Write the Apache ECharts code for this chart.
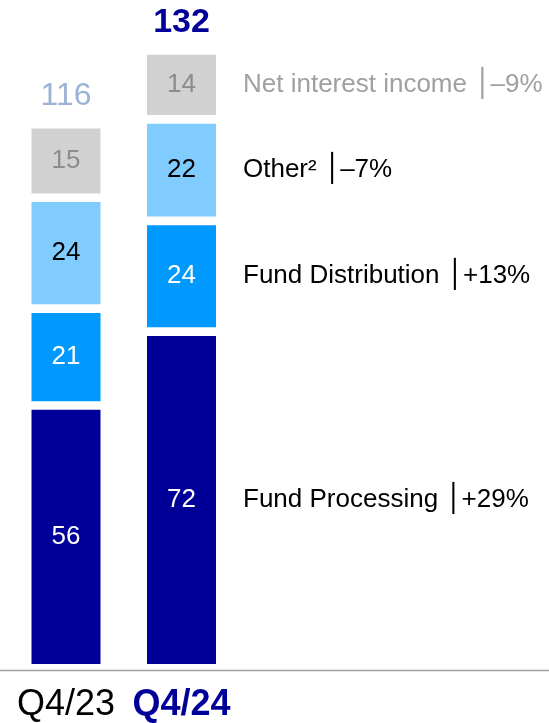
<!DOCTYPE html>
<html>
<head>
<meta charset="utf-8">
<script src="https://cdn.jsdelivr.net/npm/echarts@6/dist/echarts.min.js"></script>
<style>
html,body{margin:0;padding:0;background:#fff;}
#chart{width:549px;height:723px;}
</style>
</head>
<body>
<div id="chart"></div>
<script>
// ---- data ----
const categories = ['Q4/23', 'Q4/24'];
const fundProcessing = [56, 72];
const fundDistribution = [21, 24];
const other = [24, 22];
const netInterest = [15, 14];
const totals = [116, 132];
const segmentNames = ['Fund Processing', 'Fund Distribution', 'Other\u00B2', 'Net interest income'];
const segmentChanges = ['+29%', '+13%', '\u20137%', '\u20139%'];

// ---- styles ----
const FONT = "'Liberation Sans', Arial, sans-serif";
const segments = [fundProcessing, fundDistribution, other, netInterest];
const colors = ['#000099', '#0099FF', '#80CCFF', '#D1D1D1'];
const innerTextColors = ['#FFFFFF', '#FFFFFF', '#000000', '#8C8C8C'];
const sideTextColors = ['#000000', '#000000', '#000000', '#A0A0A0'];
const totalColors = ['#9DB3D6', '#000099'];
const totalWeights = ['normal', 'bold'];
const GAP = 8.6;
const BAR_W = 69;

const chart = echarts.init(document.getElementById('chart'), null, {renderer: 'canvas'});

const segSeries = segments.map((vals, s) => ({
  type: 'custom',
  silent: true,
  data: vals.map((v, i) => {
    let base = 0;
    for (let k = 0; k < s; k++) base += segments[k][i];
    return [i, v, base];
  }),
  renderItem: function (params, api) {
    const i = api.value(0), v = api.value(1), base = api.value(2);
    const p0 = api.coord([i, base]);
    const p1 = api.coord([i, base + v]);
    let yBottom = p0[1], yTop = p1[1];
    if (s > 0) yBottom -= GAP / 2;
    if (s < segments.length - 1) yTop += GAP / 2;
    const cx = p0[0];
    const cy = (yTop + yBottom) / 2;
    const children = [
      {type: 'rect', shape: {x: cx - BAR_W / 2, y: yTop, width: BAR_W, height: yBottom - yTop},
       style: {fill: colors[s]}},
      {type: 'text', style: {text: String(v), x: cx, y: cy, align: 'center', verticalAlign: 'middle',
       fontFamily: FONT, fontSize: 26, fill: innerTextColors[s]}}
    ];
    if (i === categories.length - 1) {
      const c = sideTextColors[s];
      children.push({type: 'text', style: {
        text: '{a|' + segmentNames[s] + ' }{p|\u2502}{b|' + segmentChanges[s] + '}',
        x: cx + BAR_W / 2 + 27, y: cy, align: 'left', verticalAlign: 'middle',
        rich: {
          a: {fontFamily: FONT, fontSize: 26, fill: c},
          p: {fontFamily: "'DejaVu Sans'", fontSize: 27, fill: c},
          b: {fontFamily: FONT, fontSize: 26, fill: c}
        }
      }});
    }
    return {type: 'group', children: children};
  }
}));

const totalSeries = {
  type: 'custom',
  silent: true,
  data: totals.map((t, i) => [i, t]),
  renderItem: function (params, api) {
    const i = api.value(0);
    const p = api.coord([i, api.value(1)]);
    return {type: 'text', style: {text: String(api.value(1)), x: p[0], y: p[1] - 32,
      align: 'center', verticalAlign: 'middle', fontFamily: FONT, fontSize: i === 1 ? 34 : 32,
      fontWeight: totalWeights[i], fill: totalColors[i]}};
  }
};

chart.setOption({
  animation: false,
  grid: {left: 8.25, width: 231, top: 17.8, bottom: 55, containLabel: false},
  xAxis: {
    type: 'category', data: categories,
    axisLine: {show: false}, axisTick: {show: false},
    axisLabel: {
      margin: 23,
      formatter: function (v, idx) { return idx === 1 ? '{b|' + v + '}' : '{a|' + v + '}'; },
      rich: {
        a: {fontFamily: FONT, fontSize: 36, color: '#000000'},
        b: {fontFamily: FONT, fontSize: 36, fontWeight: 'bold', color: '#000099'}
      }
    }
  },
  yAxis: {type: 'value', min: 0, max: 140, show: false, splitLine: {show: false}},
  graphic: [{type: 'line', shape: {x1: 0, y1: 670.5, x2: 549, y2: 670.5},
    style: {stroke: '#A0A0A0', lineWidth: 1.5}, silent: true}],
  series: segSeries.concat([totalSeries])
});
</script>
</body>
</html>
